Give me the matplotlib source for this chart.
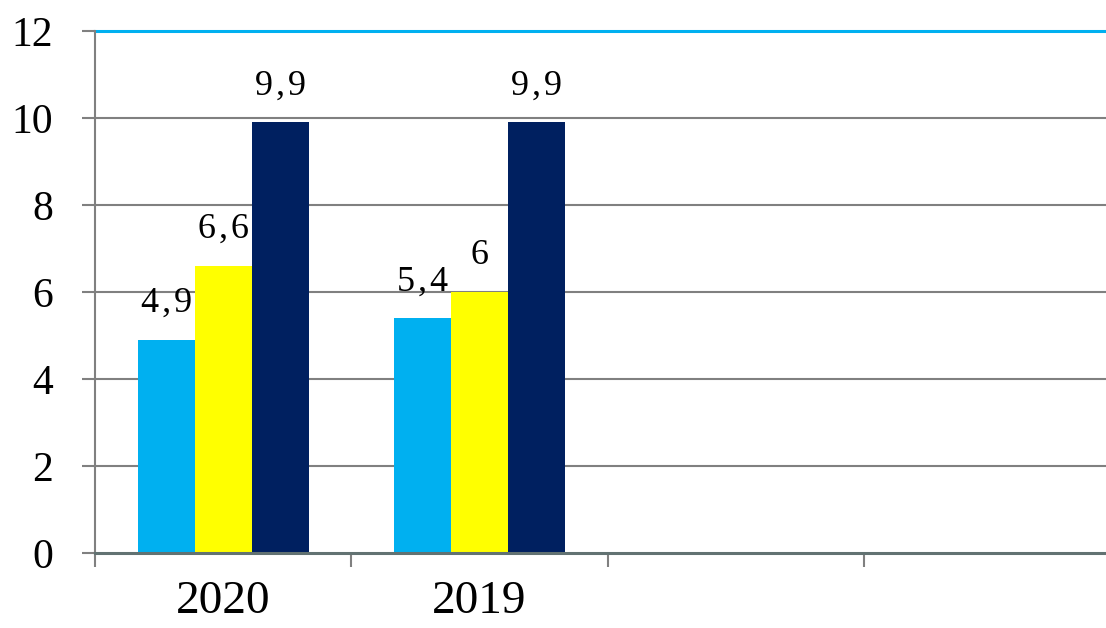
import matplotlib
matplotlib.use("Agg")
import matplotlib.pyplot as plt
import numpy as np

categories = ["2020", "2019", "", ""]
series_1 = [4.9, 5.4, None, None]
series_2 = [6.6, 6.0, None, None]
series_3 = [9.9, 9.9, None, None]
series_colors = ["#00B0F0", "#FFFF00", "#002060"]
y_ticks = [0, 2, 4, 6, 8, 10, 12]

W, H = 1106, 628
fig = plt.figure(figsize=(W / 100, H / 100), dpi=100)
left, right = 95 / W, 1120 / W
bottom, top = (H - 553) / H, (H - 31) / H
ax = fig.add_axes([left, bottom, right - left, top - bottom])

serif = ["Liberation Serif", "DejaVu Serif"]

n = len(categories)
x = np.arange(n)
bw = 1 / 4.5
for i, (vals, col) in enumerate(zip([series_1, series_2, series_3], series_colors)):
    xs = [xi + (i - 1) * bw for xi, v in zip(x, vals) if v is not None]
    vs = [v for v in vals if v is not None]
    bars = ax.bar(xs, vs, width=bw, color=col, zorder=3, linewidth=0)
    for b, v in zip(bars, vs):
        lab = "\u200a".join(f"{v:g}".replace(".", ","))
        ax.annotate(lab, (b.get_x() + b.get_width() / 2, v), xytext=(0, 20),
                    textcoords="offset points", ha="center", va="baseline",
                    fontsize=26, family=serif, color="black", zorder=5)

ax.set_xlim(-0.5, n - 0.5)
ax.set_ylim(0, 12)

# gridlines
for yv in y_ticks[1:-1]:
    ax.axhline(yv, color="#808080", lw=1.5, zorder=1)
ax.axhline(12, color="#00B0F0", lw=2.2, zorder=2, clip_on=False)

for s in ["top", "right"]:
    ax.spines[s].set_visible(False)
ax.spines["left"].set_color("#808080")
ax.spines["left"].set_linewidth(1.5)
ax.spines["bottom"].set_color("#627272")
ax.spines["bottom"].set_linewidth(2.2)
ax.spines["bottom"].set_zorder(4)

ax.set_yticks(y_ticks)
ax.set_yticklabels([str(t) for t in y_ticks], family=serif, fontsize=30)
ax.tick_params(axis="y", length=9.4, width=1.5, color="#808080", pad=21)

ax.set_xticks(np.arange(n + 1) - 0.5)
ax.set_xticklabels([])
ax.tick_params(axis="x", which="major", length=10, width=1.5, color="#808080")
ax.set_xticks(x, minor=True)
ax.set_xticklabels(categories, minor=True, family=serif, fontsize=34)
ax.tick_params(axis="x", which="minor", length=0, pad=20)

fig.savefig("out.png", dpi=100)
